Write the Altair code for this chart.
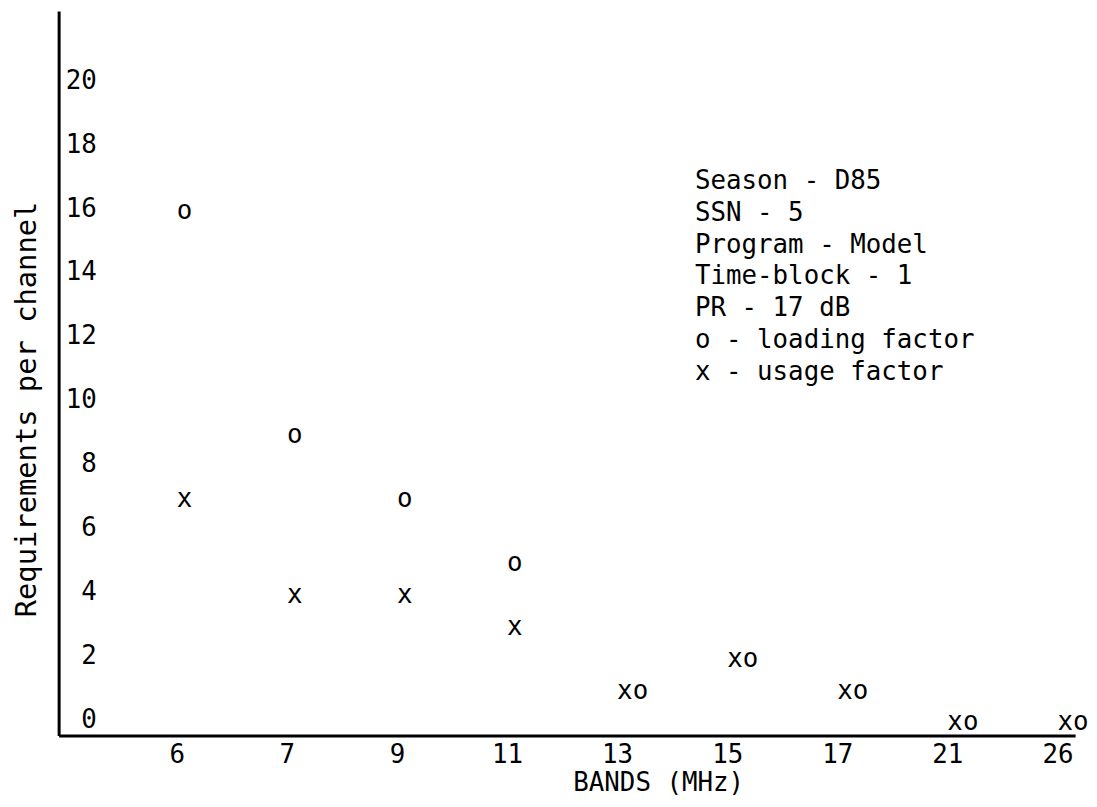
import altair as alt
import pandas as pd

# ---- data ----
bands = ["6", "7", "9", "11", "13", "15", "17", "21", "26"]
loading_factor = [16, 9, 7, 5, 1, 2, 1, 0, 0]
usage_factor = [7, 4, 4, 3, 1, 2, 1, 0, 0]
y_ticks = [0, 2, 4, 6, 8, 10, 12, 14, 16, 18, 20]
legend_lines = [
    "Season - D85",
    "SSN - 5",
    "Program - Model",
    "Time-block - 1",
    "PR - 17 dB",
    "o - loading factor",
    "x - usage factor",
]

rows = []
for b, lf, uf in zip(bands, loading_factor, usage_factor):
    if lf == uf:
        rows.append({"band": b, "value": lf, "glyph": "xo"})
    else:
        rows.append({"band": b, "value": lf, "glyph": "o"})
        rows.append({"band": b, "value": uf, "glyph": "x"})
df = pd.DataFrame(rows)

FONT = "DejaVu Sans Mono"

x_enc = alt.X(
    "band:O",
    sort=bands,
    scale=alt.Scale(type="point", domain=bands, padding=0.617, align=0.87),
    axis=alt.Axis(
        title="BANDS (MHz)",
        labelAngle=0,
        labelPadding=6,
        tickSize=0,
        ticks=False,
        titleX=604,
        titleY=47,
        titleAlign="center",
        titleBaseline="middle",
        titleFontSize=26,
    ),
)
y_enc = alt.Y(
    "value:Q",
    scale=alt.Scale(domain=[-0.5, 22.17], nice=False, zero=False),
    axis=alt.Axis(
        values=y_ticks,
        title="Requirements per channel",
        titleFontSize=29,
        titleX=-32,
        titleY=401,
        titleAngle=-90,
        titleAlign="center",
        titleBaseline="middle",
        labelAlign="right",
        labelBaseline="middle",
        labelPadding=-38,
        labelOverlap=False,
        tickSize=0,
        ticks=False,
    ),
)

points = alt.Chart(df).mark_text(
    font=FONT, fontSize=26, align="left", baseline="middle", dx=0, dy=3, color="black"
).encode(x=x_enc, y=y_enc, text="glyph:N")

notes = alt.Chart(pd.DataFrame({"a": [0]})).mark_text(
    text=legend_lines,
    font=FONT,
    fontSize=26,
    align="left",
    baseline="alphabetic",
    lineHeight=32.2,
    color="black",
).encode(x=alt.value(641), y=alt.value(179))

chart = (
    alt.layer(points, notes)
    .properties(
        width=1024,
        height=730,
        autosize=alt.AutoSizeParams(type="none"),
        padding={"left": 51, "top": 0, "right": 14, "bottom": 61},
        background="white",
    )
    .configure_view(stroke=None)
    .configure_axis(
        domainColor="black",
        domainWidth=3,
        grid=False,
        labelFont=FONT,
        labelFontSize=26,
        labelColor="black",
        titleFont=FONT,
        titleFontWeight="normal",
        titleColor="black",
    )
)

chart.save("out.html", embed_options={"renderer": "svg", "actions": False})
